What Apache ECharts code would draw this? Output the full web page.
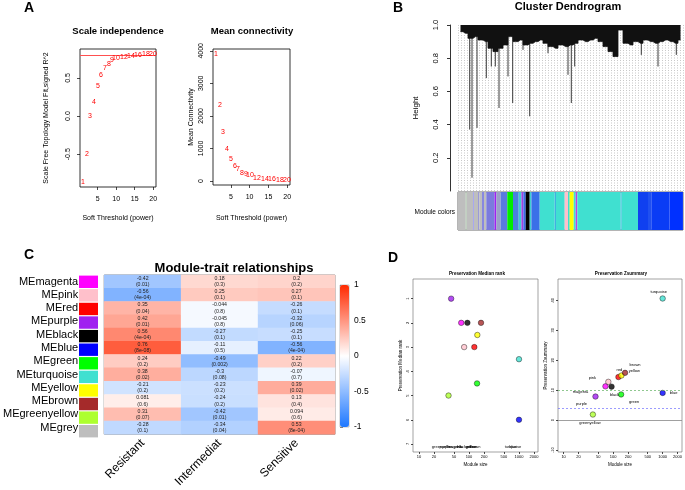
<!DOCTYPE html>
<html><head><meta charset="utf-8">
<script src="https://cdn.jsdelivr.net/npm/echarts@6/dist/echarts.min.js"></script>
<style>html,body{margin:0;padding:0;background:#fff}#c{width:685px;height:490px}</style>
</head><body><div id="c"></div>
<script>
// ---------- Panel A data ----------
const powers = [1,2,3,4,5,6,7,8,9,10,12,14,16,18,20];
const scaleFitR2 = [-0.86,-0.50,0.00,0.18,0.40,0.54,0.63,0.68,0.73,0.76,0.78,0.79,0.80,0.81,0.81];
const meanConnectivity = [3900,2340,1500,980,680,470,360,250,210,180,100,70,50,40,30];
const r2Cutoff = 0.8;
const powerTicks = [5,10,15,20];
const r2Ticks = [-0.5,0,0.5];
const connTicks = [0,1000,2000,3000,4000];

// ---------- Panel B data ----------
const dendroMassBottom = [0.96,0.95,0.92,0.93,0.91,0.90,0.86,0.84,0.86,0.88,0.93,0.90,0.91,0.88,0.89,0.90,0.91,0.89,0.87,0.86,0.88,0.87,0.88,0.89,0.91,0.90,0.91,0.92,0.90,0.87,0.84,0.81,0.97,0.89,0.88,0.90,0.89,0.91,0.90,0.89,0.90,0.91,0.90,0.89,0.91];
const dendroSpikePos = [11.7,14,19,28.3,33.3,37.3,41,50,54.7,65,71.7,90,110,113.3,116.7,183.3,200,218.3];
const dendroSpikeHeight = [0.37,0.08,0.38,0.68,0.75,0.75,0.50,0.69,0.53,0.85,0.45,0.83,0.70,0.53,0.75,0.82,0.75,0.82];
const heightTicks = [0.2,0.4,0.6,0.8,1.0];
const barColors = ['#bebebe','#a8c8a8','#bebebe','#a8a8f0','#bebebe','#9a9ad8','#bebebe','#8888e0','#bebebe','#7b7bdd','#a020f0','#9aa0c8','#5a7ae0','#00ee00','#4a80e0','#40c8d8','#a040e0','#3a6ae8','#000000','#40d0d0','#3a70e8','#40e0d0','#40b0e0','#40e0d0','#ffc0cb','#40e0d0','#ffff00','#40e0d0','#c040e0','#40e0d0','#40b8e0','#40e0d0','#1040f0','#2050f0','#0a3cf5','#0030ff'];
const barWidths = [7.7,1,6.3,1,4,1.3,2.7,2,2.3,8.3,1.7,4.3,6.7,5.7,5.7,2.7,2,2.3,4,1.7,8.3,15,1.3,8.7,3.3,1.7,4,2,1.7,43.3,1,16.3,10,3.3,18.3,13.3];

// ---------- Panel C data ----------
const modules = ['MEmagenta','MEpink','MEred','MEpurple','MEblack','MEblue','MEgreen','MEturquoise','MEyellow','MEbrown','MEgreenyellow','MEgrey'];
const moduleColors = ['#ff00ff','#ffc0cb','#ff0000','#a020f0','#000000','#0000ff','#00ff00','#40e0d0','#ffff00','#a52a2a','#adff2f','#bebebe'];
const traits = ['Resistant','Intermediat','Sensitive'];
const corResistant = [-0.42,-0.56,0.35,0.42,0.56,0.76,0.24,0.38,-0.21,0.081,0.31,-0.28];
const pResistant = ['0.01','4e-04','0.04','0.01','4e-04','8e-08','0.2','0.02','0.2','0.6','0.07','0.1'];
const corIntermediat = [0.18,0.25,-0.044,-0.045,-0.27,-0.11,-0.49,-0.3,-0.23,-0.24,-0.42,-0.34];
const pIntermediat = ['0.3','0.1','0.8','0.8','0.1','0.5','0.002','0.08','0.2','0.2','0.01','0.04'];
const corSensitive = [0.2,0.27,-0.26,-0.32,-0.25,-0.56,0.22,-0.07,0.39,0.13,0.094,0.53];
const pSensitive = ['0.2','0.1','0.1','0.06','0.1','4e-04','0.2','0.7','0.02','0.4','0.6','8e-04'];

// ---------- Panel D data ----------
const presModules = ['magenta','pink','red','purple','black','blue','green','turquoise','yellow','brown','greenyellow'];
const presColors = ['#ff00ff','#ffc0cb','#ff0000','#a020f0','#000000','#0000ff','#00ff00','#40e0d0','#ffff00','#a52a2a','#adff2f'];
const moduleSize = [70,80,128,44,93,1000,145,1000,147,174,39];
const medianRank = [2,3,3,1,2,6,4.5,3.5,2.5,2,5];
const zSummary = [11.3,12.8,14.4,7.9,11.2,9.1,8.6,40.6,14.9,15.8,1.9];
const sizeTicks = [10,20,50,100,200,500,1000,2000];
const rankTicks = [1,2,3,4,5,6,7];
const zTicks = [-10,0,10,20,30,40];
const zThresholds = [0,4,10];

// ---------- build ----------
const FONT = 'Liberation Sans, Arial, sans-serif';
const chart = echarts.init(document.getElementById('c'));
const corrByTrait = [corResistant, corIntermediat, corSensitive];
const pByTrait = [pResistant, pIntermediat, pSensitive];
const heatData = [];
traits.forEach((t,ti)=>modules.forEach((m,mi)=>heatData.push([ti,mi,corrByTrait[ti][mi]])));
let acc = 0;
const barData = barWidths.map((w,i)=>{const s=acc; acc+=w; return [s,w,i];});
const blockW = 225/dendroMassBottom.length;
const zLabelOffsets = [[-25,6],[-16,-4],[1,-7],[-14,7],[3,8],[11,0],[13,7],[-4,-7],[13,-5],[10,-8],[-3,8]];

function box(left, top, width, height, extra){
  return Object.assign({left, top, width, height, show:true, borderColor:'#000', borderWidth:0.8, containLabel:false}, extra||{});
}
function rAxis(o){
  const tv = o.ticks;
  const a = {
    gridIndex:o.g, type:o.type||'value', min:o.min, max:o.max, inverse:!!o.inverse,
    axisLine:{show:false, onZero:false}, splitLine:{show:false},
    axisTick:{show:true, customValues:tv, length:o.tl||3, lineStyle:{color:'#000', width:0.7}},
    axisLabel:{show:true, customValues:tv, fontSize:o.fs, color:'#000', margin:o.margin, rotate:o.rotate||0, fontFamily:FONT, formatter:o.fmt||(v=>String(v))},
    name:o.name, nameLocation:'middle', nameGap:o.gap, nameTextStyle:{fontSize:o.nfs||o.fs, color:'#000', fontFamily:FONT}
  };
  if (o.type==='log') a.logBase = 10;
  return a;
}
// text-only marks placed through the axes
function textSeries(xi, yi, data, font, color, snap){
  return {type:'custom', xAxisIndex:xi, yAxisIndex:yi, data, clip:false, z:20,
    renderItem:(params,api)=>{
      const d = data[params.dataIndex];
      const c = api.coord([d[0], d[1]]);
      const off = d[3] || [0,0];
      let x = c[0]+off[0], y = c[1]+off[1];
      if (snap) { x = Math.round(x); y = Math.round(y); }
      return {type:'text', x, y, z2:20,
        style:{text:d[2], font:font, fill:color, opacity:1, textAlign:'center', textVerticalAlign:'middle'}};
    }};
}

const option = {
  animation:false,
  textStyle:{fontFamily:FONT},
  graphic:[
    {type:'text', left:24, top:1, style:{text:'A', font:'bold 14px '+FONT, fill:'#000'}},
    {type:'text', left:393, top:1, style:{text:'B', font:'bold 14px '+FONT, fill:'#000'}},
    {type:'text', left:24, top:248, style:{text:'C', font:'bold 14px '+FONT, fill:'#000'}},
    {type:'text', left:388, top:251, style:{text:'D', font:'bold 14px '+FONT, fill:'#000'}},
    {type:'text', x:118, y:31, style:{text:'Scale independence', font:'bold 9.5px '+FONT, fill:'#000', textAlign:'center', textVerticalAlign:'middle'}},
    {type:'text', x:252, y:31, style:{text:'Mean connectivity', font:'bold 9.5px '+FONT, fill:'#000', textAlign:'center', textVerticalAlign:'middle'}},
    {type:'text', x:568, y:7, style:{text:'Cluster Dendrogram', font:'bold 11px '+FONT, fill:'#000', textAlign:'center', textVerticalAlign:'middle'}},
    {type:'text', x:455, y:212, style:{text:'Module colors', font:'6.5px '+FONT, fill:'#000', textAlign:'right', textVerticalAlign:'middle'}},
    {type:'text', x:234, y:268, z:100, style:{text:'Module-trait relationships', font:'bold 13px '+FONT, fill:'#000', textAlign:'center', textVerticalAlign:'middle'}},
    {type:'text', x:477, y:274, style:{text:'Preservation Median rank', font:'bold 4.6px '+FONT, fill:'#000', textAlign:'center', textVerticalAlign:'middle'}},
    {type:'text', x:621, y:274, style:{text:'Preservation Zsummary', font:'bold 4.6px '+FONT, fill:'#000', textAlign:'center', textVerticalAlign:'middle'}}
  ],
  grid:[
    box(80,49,76,138),
    box(213,49,77,136),
    {left:458, top:25, width:225, height:166, show:false},
    box(458,192,225,38,{borderColor:'#444', borderWidth:0.8}),
    box(101,275,234,163,{borderColor:'#888', borderWidth:1}),
    {left:79, top:275, width:19, height:163, show:false},
    box(340,285,9,142,{borderColor:'#999', borderWidth:0.6}),
    box(413,279,125,173,{borderColor:'#666', borderWidth:0.6}),
    box(558,279,126,173,{borderColor:'#666', borderWidth:0.6})
  ],
  xAxis:[
    rAxis({g:0, min:0.24, max:20.76, ticks:powerTicks, fs:7, margin:9, name:'Soft Threshold (power)', gap:28}),
    rAxis({g:1, min:0.24, max:20.76, ticks:powerTicks, fs:7, margin:9, name:'Soft Threshold (power)', gap:30}),
    {gridIndex:2, type:'value', min:0, max:225, interval:3, axisLine:{show:false, onZero:false}, axisTick:{show:false}, axisLabel:{show:false},
     splitLine:{show:true, lineStyle:{color:'#b0b0b0', width:0.7, type:[1,1.5]}}},
    {gridIndex:3, type:'value', min:0, max:225, show:false},
    {gridIndex:4, type:'category', data:traits, axisLine:{show:false}, axisTick:{show:false}, splitLine:{show:false},
     axisLabel:{rotate:45, fontSize:12, color:'#000', margin:7, interval:0, fontFamily:FONT}},
    {gridIndex:5, type:'category', data:['c'], show:false},
    {gridIndex:6, type:'value', min:0, max:1, show:false},
    rAxis({g:7, type:'log', min:7.6, max:2400, ticks:sizeTicks, fs:4, margin:3, tl:2, name:'Module size', gap:10, nfs:4.5}),
    rAxis({g:8, type:'log', min:7.7, max:2460, ticks:sizeTicks, fs:4, margin:3, tl:2, name:'Module size', gap:10, nfs:4.5})
  ],
  yAxis:[
    rAxis({g:0, min:-0.93, max:0.88, ticks:r2Ticks, fs:7, margin:8, rotate:90, fmt:v=>v.toFixed(1), name:'Scale Free Topology Model Fit,signed R^2', gap:30}),
    rAxis({g:1, min:-125, max:4055, ticks:connTicks, fs:7, margin:8, rotate:90, name:'Mean Connectivity', gap:18}),
    {gridIndex:2, type:'value', min:0, max:1, offset:8, splitLine:{show:false},
     axisLine:{show:true, onZero:false, lineStyle:{color:'#000', width:0.8}},
     axisTick:{show:true, customValues:heightTicks, length:3, lineStyle:{color:'#000', width:0.8}},
     axisLabel:{customValues:heightTicks, rotate:90, fontSize:7.5, color:'#000', margin:10, formatter:v=>v.toFixed(1)},
     name:'Height', nameLocation:'middle', nameGap:30, nameTextStyle:{fontSize:8, color:'#000'}},
    {gridIndex:3, type:'value', min:0, max:1, show:false},
    {gridIndex:4, type:'category', data:modules, inverse:true, axisLine:{show:false}, axisTick:{show:false}, splitLine:{show:false},
     axisLabel:{fontSize:11, color:'#000', margin:26, interval:0, fontFamily:FONT}},
    {gridIndex:5, type:'category', data:modules, inverse:true, show:false},
    {gridIndex:6, type:'value', position:'right', min:-1, max:1, interval:0.5, splitLine:{show:false}, axisLine:{show:false},
     axisTick:{show:true, length:3, lineStyle:{color:'#666', width:0.8}},
     axisLabel:{fontSize:8.5, color:'#000', margin:5, formatter:v=>String(v)}},
    rAxis({g:7, min:0.19, max:7.33, inverse:true, ticks:rankTicks, fs:4, margin:3, tl:2, rotate:90, name:'Preservation Median rank', gap:10, nfs:4.5}),
    rAxis({g:8, min:-10.6, max:47.1, ticks:zTicks, fs:4, margin:3, tl:2, rotate:90, name:'Preservation Zsummary', gap:10, nfs:4.5})
  ],
  visualMap:[{
    type:'continuous', seriesIndex:5, min:-1, max:1, calculable:false, hoverLink:false,
    left:340, top:285, itemWidth:9, itemHeight:142, padding:0, text:null,
    inRange:{color:['#1e78ff','#ffffff','#ff2a00']}
  }],
  series:[
    textSeries(0,0, powers.map((p,i)=>[p,scaleFitR2[i],String(p)]), '7px '+FONT, '#ff0000', true),
    textSeries(1,1, powers.map((p,i)=>[p,meanConnectivity[i],String(p)]), '7px '+FONT, '#ff0000', true),
    {type:'line', xAxisIndex:2, yAxisIndex:2, symbol:'none', smooth:false, step:'middle',
     data:dendroMassBottom.map((b,i)=>[(i+0.5)*blockW,b]),
     lineStyle:{color:'#111', width:0.8}, areaStyle:{origin:'end', color:'#111', opacity:1}},
    {type:'custom', xAxisIndex:2, yAxisIndex:2,
     data:dendroSpikePos.map((x,i)=>[x,dendroSpikeHeight[i]]),
     renderItem:(params,api)=>{
       const a = api.coord([api.value(0),0.97]); const b = api.coord([api.value(0),api.value(1)]);
       return {type:'line', shape:{x1:a[0],y1:a[1],x2:b[0],y2:b[1]}, style:{stroke:'#222', lineWidth:0.9}};
     }},
    {type:'custom', xAxisIndex:3, yAxisIndex:3, data:barData,
     renderItem:(params,api)=>{
       const a = api.coord([api.value(0),1]); const b = api.coord([api.value(0)+api.value(1),0]);
       return {type:'rect', shape:{x:a[0],y:a[1],width:b[0]-a[0],height:b[1]-a[1]}, style:{fill:barColors[api.value(2)]}};
     }},
    {type:'heatmap', xAxisIndex:4, yAxisIndex:4, data:heatData,
     itemStyle:{borderWidth:0},
     label:{show:true, fontSize:5.2, lineHeight:6.2, color:'#222',
       formatter:p=>String(p.value[2])+'\n('+pByTrait[p.value[0]][p.value[1]]+')'}},
    {type:'custom', xAxisIndex:5, yAxisIndex:5, data:modules.map((m,i)=>[0,i]),
     renderItem:(params,api)=>{
       const c = api.coord([0,api.value(1)]); const s = api.size([1,1]);
       return {type:'rect', shape:{x:c[0]-s[0]/2, y:c[1]-s[1]/2+0.6, width:s[0], height:s[1]-1.2}, style:{fill:moduleColors[api.value(1)]}};
     }},
    {type:'scatter', xAxisIndex:6, yAxisIndex:6, data:[]},
    {type:'scatter', xAxisIndex:7, yAxisIndex:7, symbolSize:5.5,
     data:moduleSize.map((s,i)=>({value:[s,medianRank[i]], itemStyle:{color:presColors[i], borderColor:'#000', borderWidth:0.5}}))},
    textSeries(7,7, moduleSize.map((s,i)=>[s,7.13,presModules[i],[-6,0]]), '4px '+FONT, '#000'),
    {type:'scatter', xAxisIndex:8, yAxisIndex:8, symbolSize:5.5,
     data:moduleSize.map((s,i)=>({value:[s,zSummary[i]], itemStyle:{color:presColors[i], borderColor:'#000', borderWidth:0.5}})),
     markLine:{silent:true, symbol:'none', label:{show:false}, data:[
       {yAxis:zThresholds[0], lineStyle:{color:'#888', width:0.8, type:'solid'}},
       {yAxis:zThresholds[1], lineStyle:{color:'#7070ff', width:0.7, type:[2,2]}},
       {yAxis:zThresholds[2], lineStyle:{color:'#60b060', width:0.7, type:[2,2]}}]}},
    textSeries(8,8, moduleSize.map((s,i)=>[s,zSummary[i],presModules[i],zLabelOffsets[i]]), '4px '+FONT, '#000'),
    {type:'scatter', xAxisIndex:0, yAxisIndex:0, data:[],
     markLine:{silent:true, symbol:'none', label:{show:false}, lineStyle:{color:'#ff5050', width:1.2, type:'solid'}, data:[{yAxis:r2Cutoff}]}}
  ]
};
chart.setOption(option);
</script></body></html>
